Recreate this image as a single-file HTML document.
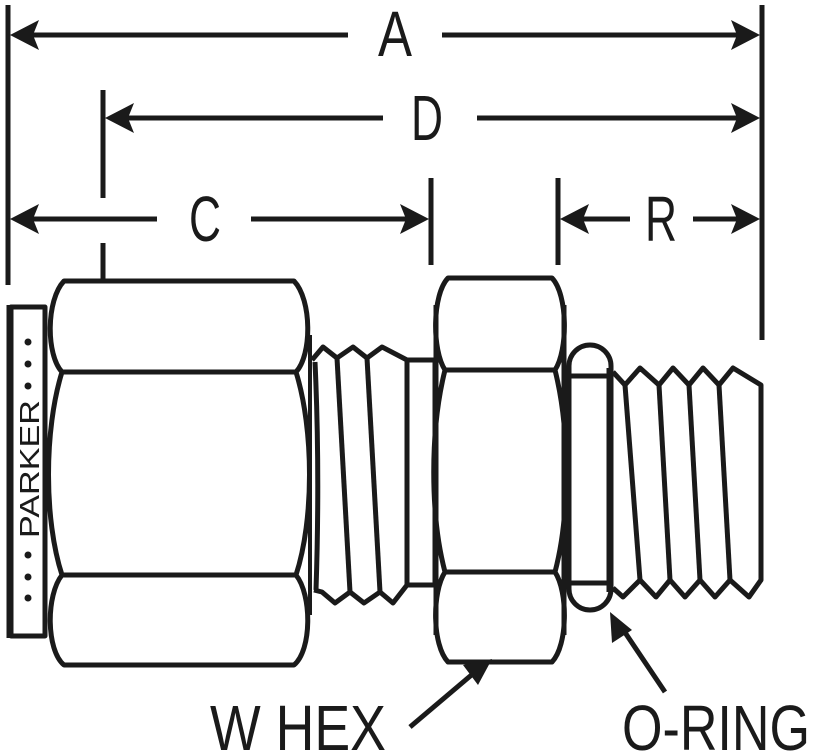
<!DOCTYPE html>
<html><head><meta charset="utf-8"><style>html,body{margin:0;padding:0;background:#fff}svg{display:block}</style></head>
<body>
<svg width="814" height="753" viewBox="0 0 814 753" xmlns="http://www.w3.org/2000/svg">
<g stroke="#1a1a1a" fill="none" stroke-width="5">
<line x1="8" y1="5" x2="8" y2="285"/>
<line x1="762" y1="5" x2="762" y2="340"/>
<line x1="103" y1="90" x2="103" y2="198"/>
<line x1="103" y1="243" x2="103" y2="335"/>
<line x1="431" y1="178" x2="431" y2="265"/>
<line x1="558" y1="178" x2="558" y2="265"/>
<line x1="20" y1="35" x2="348" y2="35"/><line x1="442" y1="35" x2="750" y2="35"/>
<line x1="115" y1="118" x2="383" y2="118"/><line x1="477" y1="118" x2="750" y2="118"/>
<line x1="20" y1="219" x2="157" y2="219"/><line x1="251" y1="219" x2="420" y2="219"/>
<line x1="570" y1="219" x2="630" y2="219"/><line x1="693" y1="219" x2="750" y2="219"/>
</g>
<g fill="#1a1a1a">
<polygon points="10,35 39,20 33,35 39,50"/><polygon points="760,35 731,20 737,35 731,50"/>
<polygon points="105,118 134,103 128,118 134,133"/><polygon points="760,118 731,103 737,118 731,133"/>
<polygon points="10,219 39,204 33,219 39,234"/><polygon points="429,219 400,204 406,219 400,234"/>
<polygon points="560,219 589,204 583,219 589,234"/><polygon points="760,219 731,204 737,219 731,234"/>
</g>
<g font-family="Liberation Sans, sans-serif" fill="#1a1a1a" font-size="64">
<text x="395" y="56" text-anchor="middle" textLength="34" lengthAdjust="spacingAndGlyphs">A</text>
<text x="427" y="140" text-anchor="middle" textLength="32" lengthAdjust="spacingAndGlyphs">D</text>
<text x="205" y="241" text-anchor="middle" textLength="32" lengthAdjust="spacingAndGlyphs">C</text>
<text x="661" y="241" text-anchor="middle" textLength="32" lengthAdjust="spacingAndGlyphs">R</text>
<text x="210" y="750" textLength="176" lengthAdjust="spacingAndGlyphs">W HEX</text>
<text x="622" y="750" textLength="188" lengthAdjust="spacingAndGlyphs">O-RING</text>
</g>
<g stroke="#1a1a1a" fill="none" stroke-width="5" stroke-linejoin="round">
<rect x="11" y="307" width="34" height="329" stroke-width="5"/>
<line x1="10" y1="305" x2="10" y2="638" stroke-width="7"/>
<path d="M64 281 H294 C312 300,312 355,296 372 C314 430,314 520,296 575 C312 595,312 650,294 665 H64 C46 650,46 595,62 575 C44 520,44 430,62 372 C46 355,46 300,64 281 Z" fill="#fff"/>
<line x1="62" y1="372" x2="296" y2="372"/><line x1="62" y1="575" x2="296" y2="575"/>
<line x1="310" y1="335" x2="310" y2="615" stroke-width="4"/>
<path d="M312 360 L323 347 L337 358 L353 347 L367 358 L382 347 L407 360 L407 585 L393 603 L380 592 L364 603 L350 592 L335 603 L322 592 L314 590"/>
<path d="M315 362 Q320 470 316 590"/>
<line x1="337" y1="358" x2="350" y2="592"/><line x1="367" y1="358" x2="380" y2="592"/>
<rect x="407" y="360" width="28" height="225"/>
<path d="M448 278 H552 C568 295,568 350,555 370 C570 430,570 515,555 572 C568 592,568 645,552 662 H448 C432 645,432 592,445 572 C430 515,430 430,445 370 C432 350,432 295,448 278 Z" fill="#fff"/>
<line x1="445" y1="370" x2="555" y2="370"/><line x1="445" y1="572" x2="555" y2="572"/>
<line x1="436" y1="305" x2="436" y2="635"/><line x1="564" y1="305" x2="564" y2="635"/>
<rect x="569" y="345" width="42" height="265" rx="21" fill="#fff"/>
<line x1="571" y1="376" x2="608" y2="376"/><line x1="571" y1="583" x2="608" y2="583"/>
<line x1="610" y1="368" x2="610" y2="592" stroke-width="7"/>
<path d="M613 372 L625 385 L640 368 L659 385 L673 368 L689 385 L703 368 L719 385 L733 368 L761 385 L761 580 L749 597 L730 580 L715 597 L700 580 L685 597 L670 580 L656 597 L640 580 L623 597 L613 588"/>
<line x1="625" y1="385" x2="640" y2="580"/><line x1="659" y1="385" x2="670" y2="580"/>
<line x1="689" y1="385" x2="700" y2="580"/><line x1="719" y1="385" x2="730" y2="580"/>
<line x1="410" y1="727" x2="475" y2="672"/>
<line x1="665" y1="692" x2="622" y2="628"/>
</g>
<g fill="#1a1a1a">
<polygon points="492,659 463,665 478,685"/>
<polygon points="610,612 612,643 632,630"/>
<circle cx="28" cy="342" r="3.5"/><circle cx="28" cy="364" r="3.5"/><circle cx="28" cy="386" r="3.5"/>
<circle cx="28" cy="555" r="3.5"/><circle cx="28" cy="577" r="3.5"/><circle cx="28" cy="598" r="3.5"/>
<text x="0" y="0" transform="translate(39 538) rotate(-90)" font-family="Liberation Sans, sans-serif" font-size="28" textLength="138" lengthAdjust="spacingAndGlyphs">PARKER</text>
</g>
</svg>
</body></html>
